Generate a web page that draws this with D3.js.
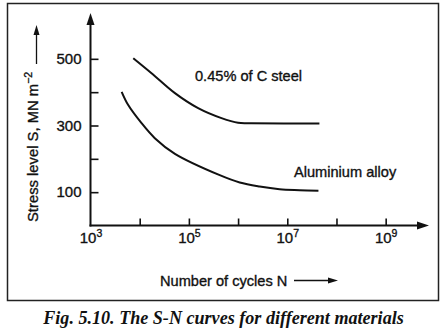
<!DOCTYPE html>
<html><head><meta charset="utf-8">
<script src="https://cdn.jsdelivr.net/npm/d3@7"></script>
<style>body{margin:0;background:#fff}svg{display:block}</style>
</head><body>
<svg id="c" width="445" height="333"></svg>
<script>
// Data
const steelN = [7.4e3, 1.74e4, 5.2e4, 1.54e5, 4.6e5, 1.0e6, 1.86e6, 4.5e7];
const steelS = [502, 457, 397, 352, 322, 308, 307, 306];
const aluN = [4.3e3, 5.8e3, 1.09e4, 2.03e4, 5.2e4, 4.24e5, 1.08e6, 2.74e6, 6.98e6, 1.78e7, 4.3e7];
const aluS = [401, 362, 307, 262, 215, 151, 129, 117, 109, 106, 104];
const yTicks = [100, 200, 300, 400, 500];
const yLabels = [100, 300, 500];
const xTicks = [1e3, 1e4, 1e5, 1e6, 1e7, 1e8, 1e9];
const xLabelExps = [3, 5, 7, 9];

const svg = d3.select("#c");
const font = "'Liberation Sans', Arial, sans-serif";
const ink = "#111";

const x = d3.scaleLog().domain([1e3, Math.pow(10, 9.84)]).range([90.5, 427]);
const y = d3.scaleLinear().domain([0, 600]).range([225.5, 25.5]);

function txt(sel, size) {
  return sel.attr("font-family", font).attr("font-size", size).attr("fill", ink)
    .attr("stroke", ink).attr("stroke-width", 0.35);
}

// frame
svg.append("rect").attr("x", 7.5).attr("y", 3.5).attr("width", 431).attr("height", 297)
  .attr("fill", "none").attr("stroke", "#222").attr("stroke-width", 1.5);

// y axis
const ya = svg.append("g").attr("transform", "translate(90.5,0)")
  .call(d3.axisLeft(y).tickValues(yTicks).tickSize(-8).tickPadding(9)
    .tickFormat(d => yLabels.includes(d) ? d : ""));
ya.select(".domain").remove();
ya.selectAll(".tick line").attr("stroke", ink).attr("stroke-width", 1.6);
txt(ya.selectAll(".tick text"), 15);

// x axis
const xa = svg.append("g").attr("transform", "translate(0,225.5)")
  .call(d3.axisBottom(x).tickValues(xTicks).tickSize(-7).tickPadding(5).tickFormat(""));
xa.select(".domain").remove();
xa.selectAll(".tick line").attr("stroke", ink).attr("stroke-width", 1.6)
  .filter(d => d === 1e3).remove();
txt(xa.selectAll(".tick").filter(d => xLabelExps.includes(Math.round(Math.log10(d))))
  .append("text").attr("y", 17).attr("text-anchor", "middle"), 15)
  .each(function(d) {
    const t = d3.select(this);
    t.append("tspan").text("10");
    t.append("tspan").attr("dy", -6).attr("font-size", 10.5).text(Math.round(Math.log10(d)));
  });

// axis lines with arrows
svg.append("line").attr("x1", 90.5).attr("x2", 90.5).attr("y1", 226.5).attr("y2", 22)
  .attr("stroke", ink).attr("stroke-width", 2);
svg.append("path").attr("d", "M90.5,13 L86.5,25 L94.5,25 Z").attr("fill", ink);
svg.append("line").attr("x1", 89.5).attr("x2", 420).attr("y1", 225.5).attr("y2", 225.5)
  .attr("stroke", ink).attr("stroke-width", 2);
svg.append("path").attr("d", "M429,225.5 L417,221.5 L417,229.5 Z").attr("fill", ink);

// curves
const line = d3.line().x(d => x(d[0])).y(d => y(d[1])).curve(d3.curveCatmullRom.alpha(0.5));
svg.append("path").datum(d3.zip(steelN, steelS)).attr("d", line)
  .attr("fill", "none").attr("stroke", ink).attr("stroke-width", 2);
svg.append("path").datum(d3.zip(aluN, aluS)).attr("d", line)
  .attr("fill", "none").attr("stroke", ink).attr("stroke-width", 2);

// curve labels
txt(svg.append("text").attr("x", 195).attr("y", 80.5), 14.6).text("0.45% of C steel");
txt(svg.append("text").attr("x", 294).attr("y", 177), 14.6).text("Aluminium alloy");

// x axis title with arrow
txt(svg.append("text").attr("x", 160).attr("y", 285.5), 14.6).text("Number of cycles N");
svg.append("line").attr("x1", 294).attr("x2", 330).attr("y1", 280.5).attr("y2", 280.5)
  .attr("stroke", ink).attr("stroke-width", 1.3);
svg.append("path").attr("d", "M338,280.5 L328,277.5 L328,283.5 Z").attr("fill", ink);

// y axis title with arrow
const yt = txt(svg.append("text").attr("transform", "translate(37.5,222) rotate(-90)"), 14.8);
yt.append("tspan").text("Stress level S, MN m");
yt.append("tspan").attr("dy", -5.5).attr("font-size", 10.5).text("−2");
svg.append("line").attr("x1", 36.5).attr("x2", 36.5).attr("y1", 64).attr("y2", 33)
  .attr("stroke", ink).attr("stroke-width", 1.3);
svg.append("path").attr("d", "M36.5,25 L33.5,35 L39.5,35 Z").attr("fill", ink);

// caption
svg.append("text").attr("x", 223.5).attr("y", 324).attr("text-anchor", "middle")
  .attr("font-family", "'Liberation Serif', 'Times New Roman', serif").attr("font-weight", "bold")
  .attr("font-style", "italic").attr("font-size", 18.1).attr("fill", ink)
  .text("Fig. 5.10. The S-N curves for different materials");
</script>
</body></html>
